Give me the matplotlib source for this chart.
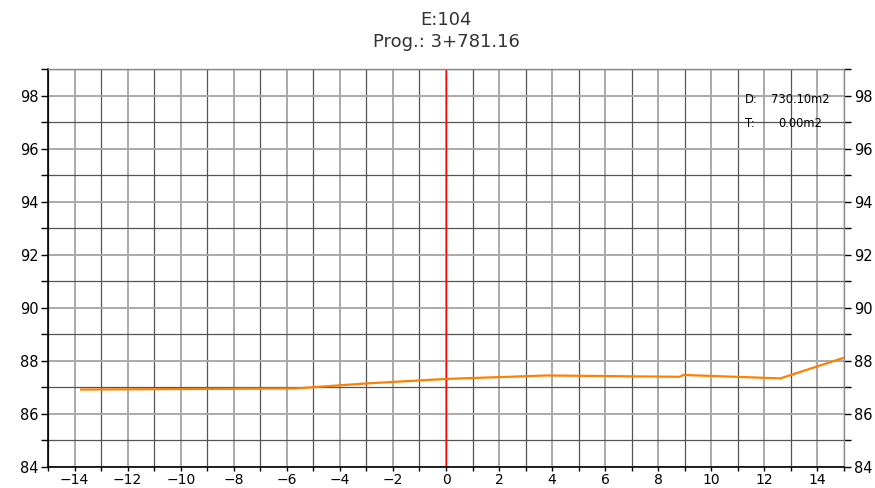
import numpy as np
import matplotlib
matplotlib.use("Agg")
import matplotlib.pyplot as plt
from matplotlib.ticker import MultipleLocator

# perfil do terreno
offsets = [-13.75, -5.7, -3.0, 0.0, 3.8, 8.8, 8.95, 12.6, 15.0]
elevations = [86.92, 86.96, 87.15, 87.32, 87.45, 87.40, 87.47, 87.34, 88.12]

title_lines = ["E:104", "Prog.: 3+781.16"]
area_labels = ["D:", "T:"]
area_values = ["730.10m2", "0.00m2"]

fig = plt.figure(figsize=(8.75, 4.88), dpi=100)
ax = fig.add_axes([0.0549, 0.043, 0.9097, 0.8156])

ax.set_xlim(-15, 15)
ax.set_ylim(84, 99)

ax.xaxis.set_major_locator(MultipleLocator(2))
ax.xaxis.set_minor_locator(MultipleLocator(1))
ax.yaxis.set_major_locator(MultipleLocator(2))
ax.yaxis.set_minor_locator(MultipleLocator(1))

# grade: linhas pares mais claras, ímpares mais escuras
ax.grid(which="major", color="#aaaaaa", linewidth=1.4)
ax.grid(which="minor", color="#555555", linewidth=0.9)
ax.set_axisbelow(True)

ax.tick_params(which="both", direction="out", length=5, width=1,
               left=True, right=True, labelleft=True, labelright=True,
               bottom=True, top=False, labelsize=10.5, pad=2)
ax.tick_params(axis="x", which="both", length=3, pad=1, labelsize=10)

ax.xaxis.set_major_formatter(plt.FuncFormatter(lambda v, p: f"{int(v)}".replace("-", "\u2212")))

for s in ["left", "bottom"]:
    ax.spines[s].set_color("black")
    ax.spines[s].set_linewidth(1.2)
for s in ["top", "right"]:
    ax.spines[s].set_color("#888888")
    ax.spines[s].set_linewidth(1.0)

ax.axvline(0, color="#ff0000", linewidth=1.0)
ax.plot(offsets, elevations, color="#ff8000", linewidth=1.6, zorder=3)

fig.text(0.51, 0.96, title_lines[0], ha="center", va="center", fontsize=13, color="#333333")
fig.text(0.51, 0.913, title_lines[1], ha="center", va="center", fontsize=13, color="#333333")

for i, (lab, val) in enumerate(zip(area_labels, area_values)):
    y = 97.85 - i * 0.92
    ax.text(11.28, y, lab, fontsize=8.3, ha="left", va="center")
    ax.text(13.36, y, val, fontsize=8.3, ha="center", va="center")

fig.savefig("out.png", dpi=100)
plt.close(fig)
